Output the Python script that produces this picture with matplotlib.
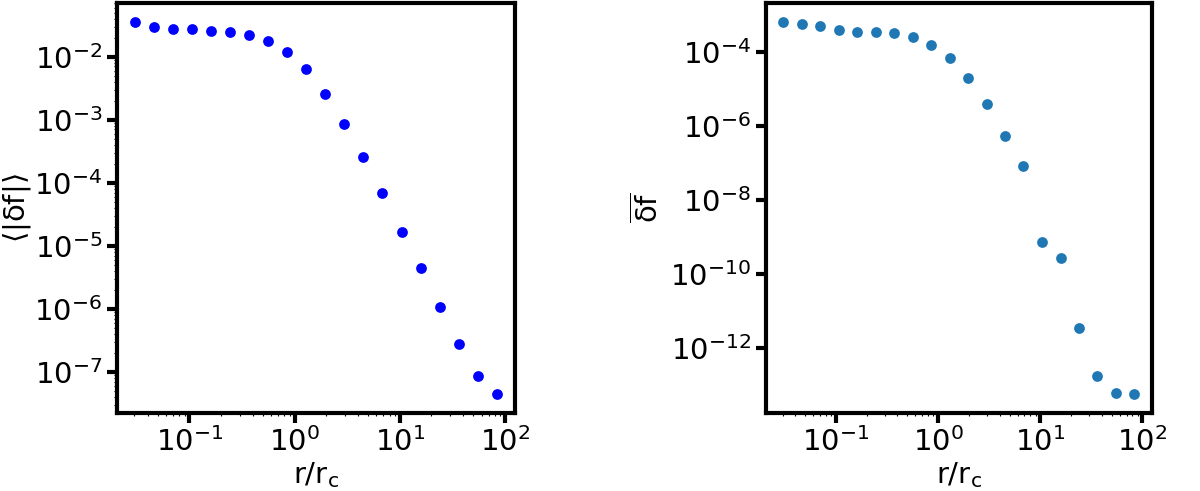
import matplotlib
matplotlib.use("Agg")
import matplotlib.pyplot as plt

plt.rcParams['mathtext.default'] = 'regular'
plt.rcParams['font.family'] = ['DejaVu Sans']

r = [0.0304, 0.0461, 0.0700, 0.106, 0.161, 0.244, 0.371, 0.562, 0.853, 1.294,
     1.963, 2.98, 4.52, 6.85, 10.4, 15.8, 23.9, 36.3, 55.1, 83.6]
mean_abs_df = [0.036, 0.030, 0.0275, 0.0278, 0.0259, 0.0249, 0.0223, 0.0180, 0.0120, 0.00637,
               0.00252, 8.53e-4, 2.52e-4, 6.93e-5, 1.67e-5, 4.42e-6, 1.08e-6, 2.82e-7, 8.53e-8, 4.42e-8]
mean_df = [6.47e-4, 5.6e-4, 4.84e-4, 3.78e-4, 3.47e-4, 3.33e-4, 3.2e-4, 2.49e-4, 1.51e-4, 6.89e-5,
           1.98e-5, 3.77e-6, 5.15e-7, 8.13e-8, 7.33e-10, 2.6e-10, 3.47e-12, 1.75e-13, 6.08e-14, 5.6e-14]

fig = plt.figure(figsize=(12, 4.91), dpi=100)
ax1 = fig.add_axes([0.0975, 0.159, 0.3315, 0.835])
ax2 = fig.add_axes([0.638, 0.159, 0.322, 0.835])

ax1.scatter(r, mean_abs_df, color='#0000ff', s=60, linewidths=0)
ax2.scatter(r, mean_df, color='#1f77b4', s=60, linewidths=0)

for ax in (ax1, ax2):
    ax.set_xscale('log')
    ax.set_yscale('log')
    for sp in ax.spines.values():
        sp.set_linewidth(3.0)
    ax.tick_params(which='major', length=7, width=3.0, labelsize=21)
    ax.tick_params(which='minor', length=2.5, width=0.8)
    ax.set_xlabel('$r/r_c$', fontsize=21, labelpad=2)

ax1.set_ylabel(r'$\langle|\delta f|\rangle$', fontsize=21, labelpad=1)
ax2.set_ylabel(r'$\overline{\delta f}$', fontsize=21)
ax2.set_yticks([1e-4, 1e-6, 1e-8, 1e-10, 1e-12])
ax2.yaxis.set_minor_locator(matplotlib.ticker.NullLocator())

fig.savefig('out.png', dpi=100)
